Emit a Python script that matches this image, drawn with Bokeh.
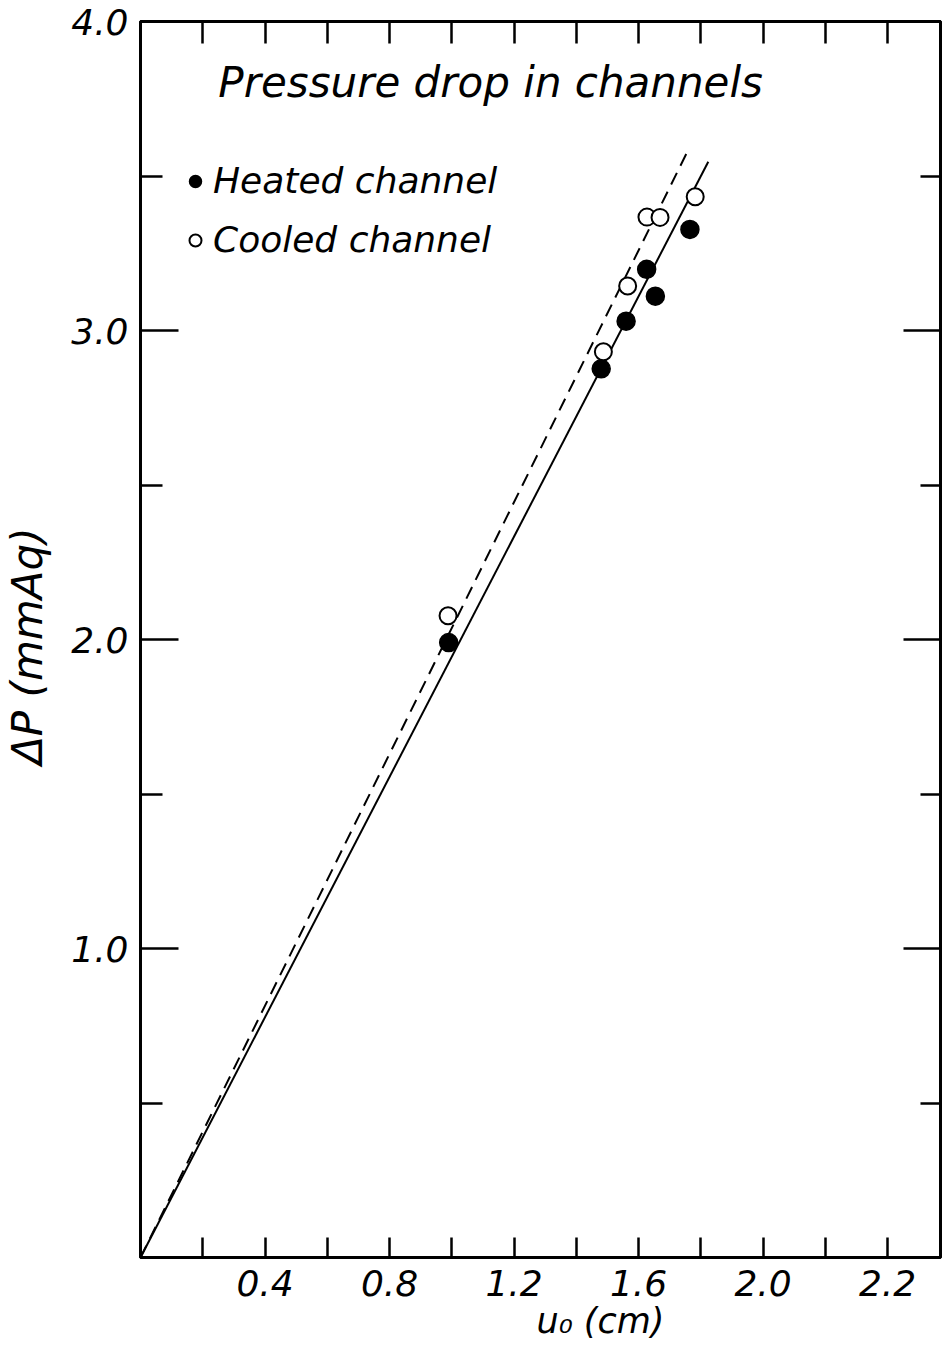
from bokeh.plotting import figure
from bokeh.models import (Range1d, LinearAxis, FixedTicker, Label, Legend, LegendItem,
                          CustomJSTickFormatter, Title)
from bokeh.embed import file_html
from bokeh.resources import INLINE

# ---- data ----
heated_u = [0.99, 1.48, 1.56, 1.626, 1.654, 1.765]
heated_dp = [1.99, 2.876, 3.03, 3.198, 3.111, 3.327]
cooled_u = [0.988, 1.487, 1.565, 1.627, 1.669, 1.782]
cooled_dp = [2.077, 2.931, 3.144, 3.367, 3.366, 3.433]
fit_heated_u = [0.0, 1.824]
fit_heated_dp = [0.0, 3.546]
fit_cooled_u = [0.0, 1.757]
fit_cooled_dp = [0.0, 3.579]

x_major = [0.4, 0.8, 1.2, 1.6, 2.0, 2.4]
x_labels = ["0.4", "0.8", "1.2", "1.6", "2.0", "2.2"]
x_minor = [0.2, 0.6, 1.0, 1.4, 1.8, 2.2]
y_major = [1.0, 2.0, 3.0, 4.0]
y_labels = ["1.0", "2.0", "3.0", "4.0"]
y_minor = [0.5, 1.5, 2.5, 3.5]

FONT = "DejaVu Sans"

p = figure(width=942, height=1353, output_backend="svg", toolbar_location=None,
           x_range=Range1d(0, 2.57), y_range=Range1d(0, 4.0),
           min_border_left=137, min_border_right=2, min_border_top=21, min_border_bottom=96,
           x_axis_location=None, y_axis_location=None)
p.grid.visible = False
p.outline_line_color = "black"
p.outline_line_width = 3
p.background_fill_color = "white"
p.border_fill_color = "white"

def style(ax, major_in, minor_in, labels=True):
    ax.axis_line_color = "black"
    ax.axis_line_width = 3
    ax.major_tick_line_color = "black"
    ax.major_tick_line_width = 2.5
    ax.minor_tick_line_color = "black"
    ax.minor_tick_line_width = 2.5
    ax.major_tick_in = major_in
    ax.major_tick_out = 0
    ax.minor_tick_in = minor_in
    ax.minor_tick_out = 0
    if labels:
        ax.major_label_text_font = FONT
        ax.major_label_text_font_style = "italic"
        ax.major_label_text_font_size = "36px"
        ax.major_label_text_color = "black"
    else:
        ax.formatter = CustomJSTickFormatter(code="return ''")
        ax.major_label_text_font_size = "1px"
        ax.major_label_standoff = 0

# bottom axis
xb = LinearAxis(ticker=FixedTicker(ticks=x_major, minor_ticks=x_minor))
style(xb, 20, 20)
xb.major_label_overrides = {v: t for v, t in zip(x_major, x_labels)}
xb.major_label_standoff = 12
p.add_layout(xb, "below")

# x-axis title, placed under the tick labels, shifted right as in the original
p.add_layout(Title(text="u₀ (cm)", align="left", offset=396, standoff=0,
                   text_font=FONT, text_font_style="italic", text_font_size="35px",
                   text_color="black"), "below")

# top axis
xt = LinearAxis(ticker=FixedTicker(ticks=x_major, minor_ticks=x_minor))
style(xt, 22, 22, labels=False)
p.add_layout(xt, "above")

# left axis
yl = LinearAxis(ticker=FixedTicker(ticks=y_major, minor_ticks=y_minor),
                axis_label="ΔP  (mmAq)")
style(yl, 38, 22)
yl.major_label_overrides = {v: t for v, t in zip(y_major, y_labels)}
yl.major_label_standoff = 12
yl.axis_label_standoff = 16
yl.axis_label_text_font = FONT
yl.axis_label_text_font_style = "italic"
yl.axis_label_text_font_size = "42px"
yl.axis_label_text_color = "black"
p.add_layout(yl, "left")

# right axis
yr = LinearAxis(ticker=FixedTicker(ticks=y_major, minor_ticks=y_minor))
style(yr, 37, 20, labels=False)
p.add_layout(yr, "right")

# fitted lines
p.line(fit_heated_u, fit_heated_dp, line_color="black", line_width=2)
p.line(fit_cooled_u, fit_cooled_dp, line_color="black", line_width=2, line_dash="13 8")

# data points
rh = p.scatter(heated_u, heated_dp, marker="circle", size=18,
               fill_color="black", line_color="black", line_width=1.5)
rc = p.scatter(cooled_u, cooled_dp, marker="circle", size=17,
               fill_color="white", line_color="black", line_width=2)

legend = Legend(items=[LegendItem(label="Heated channel", renderers=[rh]),
                       LegendItem(label="Cooled channel", renderers=[rc])],
                location=(40, 997))
legend.label_text_font = FONT
legend.label_text_font_style = "italic"
legend.label_text_font_size = "36px"
legend.label_text_color = "black"
legend.glyph_width = 30
legend.glyph_height = 40
legend.label_height = 40
legend.label_standoff = 3
legend.spacing = 18
legend.padding = 0
legend.margin = 0
legend.border_line_alpha = 0
legend.background_fill_alpha = 0
p.add_layout(legend, "center")

# title inside the plot
p.add_layout(Label(x=0.25, y=3.803, text="Pressure drop in channels",
                   text_font=FONT, text_font_style="italic", text_font_size="42px",
                   text_align="left", text_baseline="middle", text_color="black"))

open("out.html", "w").write(file_html(p, INLINE))
